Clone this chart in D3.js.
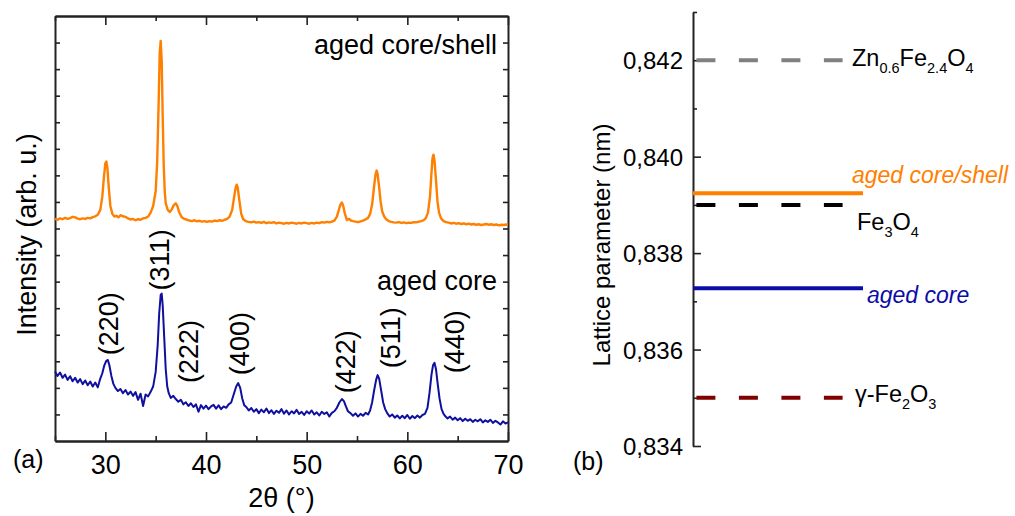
<!DOCTYPE html>
<html>
<head>
<meta charset="utf-8">
<script src="https://cdn.jsdelivr.net/npm/d3@7"></script>
<style>
  body { margin: 0; background: #fff; }
  svg { font-family: "Liberation Sans", Arial, sans-serif; }
  .frame path, .frame line { stroke: #222; }
</style>
</head>
<body>
<div id="chart"></div>
<script>
// XRD patterns (2theta in degrees, intensity in arb. units, offset already applied)
const coreShellXRD = [
  [25.0,8.36],[25.25,8.33],[25.5,8.38],[25.75,8.35],[26.0,8.40],[26.25,8.36],[26.5,8.39],[26.75,8.44],
  [27.0,8.42],[27.25,8.37],[27.5,8.35],[27.75,8.38],[28.0,8.36],[28.25,8.40],[28.5,8.38],[28.75,8.43],
  [29.0,8.46],[29.25,8.52],[29.5,8.70],[29.7,9.20],[29.85,9.90],[30.0,10.45],[30.1,10.52],[30.2,10.30],
  [30.35,9.50],[30.5,8.85],[30.7,8.55],[30.9,8.45],[31.1,8.48],[31.3,8.42],[31.5,8.50],[31.75,8.46],
  [32.0,8.44],[32.25,8.38],[32.5,8.34],[32.75,8.36],[33.0,8.31],[33.25,8.35],[33.5,8.33],[33.75,8.38],
  [34.0,8.40],[34.25,8.45],[34.5,8.60],[34.75,8.85],[35.0,9.40],[35.15,10.5],[35.3,12.8],[35.4,14.6],
  [35.5,15.06],[35.6,14.3],[35.7,12.2],[35.8,10.4],[35.9,9.4],[36.0,8.95],[36.2,8.70],[36.4,8.62],
  [36.6,8.72],[36.8,8.88],[37.0,8.95],[37.15,8.85],[37.35,8.60],[37.6,8.42],[37.85,8.36],[38.1,8.33],
  [38.35,8.30],[38.6,8.28],[38.85,8.31],[39.1,8.27],[39.35,8.29],[39.6,8.26],[39.85,8.28],[40.1,8.25],
  [40.35,8.28],[40.6,8.26],[40.85,8.30],[41.1,8.28],[41.35,8.31],[41.6,8.29],[41.85,8.33],[42.1,8.36],
  [42.35,8.45],[42.6,8.70],[42.8,9.20],[42.95,9.55],[43.05,9.65],[43.15,9.55],[43.3,9.10],[43.5,8.55],
  [43.7,8.35],[43.95,8.28],[44.2,8.25],[44.5,8.23],[44.75,8.26],[45.0,8.22],[45.25,8.24],[45.5,8.21],
  [45.75,8.25],[46.0,8.20],[46.25,8.23],[46.5,8.21],[46.75,8.24],[47.0,8.19],[47.25,8.22],[47.5,8.20],
  [47.75,8.18],[48.0,8.21],[48.25,8.19],[48.5,8.22],[48.75,8.20],[49.0,8.18],[49.25,8.21],[49.5,8.19],
  [49.75,8.22],[50.0,8.20],[50.25,8.18],[50.5,8.21],[50.75,8.19],[51.0,8.22],[51.25,8.20],[51.5,8.24],
  [51.75,8.22],[52.0,8.25],[52.25,8.23],[52.5,8.26],[52.75,8.30],[53.0,8.45],[53.2,8.70],[53.35,8.90],
  [53.5,8.98],[53.65,8.82],[53.8,8.55],[54.0,8.32],[54.2,8.36],[54.4,8.30],[54.6,8.28],[54.85,8.26],
  [55.1,8.24],[55.35,8.27],[55.6,8.30],[55.85,8.34],[56.1,8.40],[56.3,8.55],[56.5,8.90],[56.7,9.60],
  [56.85,10.05],[56.95,10.18],[57.05,10.05],[57.2,9.55],[57.35,9.00],[57.5,8.65],[57.7,8.45],[57.9,8.35],
  [58.15,8.28],[58.4,8.25],[58.65,8.23],[58.9,8.22],[59.15,8.24],[59.4,8.21],[59.65,8.23],[59.9,8.20],
  [60.15,8.22],[60.4,8.21],[60.65,8.24],[60.9,8.23],[61.15,8.26],[61.4,8.28],[61.65,8.32],[61.85,8.40],
  [62.05,8.60],[62.25,9.20],[62.4,10.10],[62.5,10.65],[62.6,10.78],[62.7,10.55],[62.85,9.80],[63.0,9.00],
  [63.15,8.60],[63.35,8.38],[63.6,8.28],[63.85,8.24],[64.1,8.22],[64.35,8.19],[64.6,8.21],[64.85,8.18],
  [65.1,8.20],[65.35,8.17],[65.6,8.19],[65.85,8.16],[66.1,8.18],[66.35,8.15],[66.6,8.17],[66.85,8.14],
  [67.1,8.16],[67.35,8.13],[67.6,8.15],[67.85,8.17],[68.1,8.14],[68.35,8.16],[68.6,8.13],[68.85,8.15],
  [69.1,8.12],[69.35,8.14],[69.6,8.13],[69.85,8.15],[70.0,8.14]
];

const coreXRD = [
  [25.0,2.62],[25.25,2.45],[25.5,2.58],[25.75,2.38],[26.0,2.50],[26.25,2.30],[26.5,2.44],[26.75,2.25],
  [27.0,2.38],[27.25,2.20],[27.5,2.33],[27.75,2.14],[28.0,2.28],[28.25,2.10],[28.5,2.24],[28.75,2.05],
  [29.0,2.20],[29.25,2.02],[29.5,2.35],[29.7,2.55],[29.9,2.85],[30.1,3.02],[30.25,3.05],[30.4,2.85],
  [30.6,2.45],[30.8,2.15],[31.0,2.00],[31.25,1.88],[31.5,1.96],[31.75,1.80],[32.0,1.92],[32.25,1.75],
  [32.5,1.86],[32.75,1.70],[33.0,1.84],[33.25,1.55],[33.5,1.78],[33.75,1.32],[34.0,1.75],[34.25,1.68],
  [34.5,1.85],[34.75,2.05],[35.0,2.60],[35.2,3.60],[35.35,4.80],[35.5,5.50],[35.6,5.55],[35.7,5.10],
  [35.85,3.90],[36.0,2.70],[36.15,2.05],[36.3,1.80],[36.5,1.62],[36.75,1.70],[37.0,1.58],[37.25,1.48],
  [37.5,1.55],[37.75,1.38],[38.0,1.46],[38.25,1.32],[38.5,1.42],[38.75,1.28],[39.0,1.38],[39.25,1.10],
  [39.5,1.35],[39.75,1.22],[40.0,1.33],[40.25,1.20],[40.5,1.30],[40.75,1.36],[41.0,1.22],[41.25,1.34],
  [41.5,1.20],[41.75,1.30],[42.0,1.25],[42.25,1.38],[42.5,1.45],[42.75,1.75],[43.0,2.05],[43.2,2.18],
  [43.4,2.00],[43.6,1.60],[43.8,1.35],[44.0,1.28],[44.25,1.15],[44.5,1.24],[44.75,1.10],[45.0,1.20],
  [45.25,1.05],[45.5,1.18],[45.75,1.08],[46.0,1.22],[46.25,1.05],[46.5,1.16],[46.75,1.02],[47.0,1.14],
  [47.25,1.06],[47.5,1.20],[47.75,1.03],[48.0,1.15],[48.25,1.00],[48.5,1.12],[48.75,1.04],[49.0,1.17],
  [49.25,1.02],[49.5,1.10],[49.75,0.98],[50.0,1.12],[50.25,1.03],[50.5,1.15],[50.75,1.00],[51.0,1.08],
  [51.25,0.96],[51.5,1.10],[51.75,1.02],[52.0,1.08],[52.25,0.92],[52.5,1.06],[52.75,1.12],[53.0,1.25],
  [53.25,1.45],[53.5,1.58],[53.7,1.50],[53.9,1.30],[54.1,1.12],[54.35,1.05],[54.6,0.95],[54.85,1.04],
  [55.1,0.92],[55.35,1.02],[55.6,0.95],[55.85,1.06],[56.1,1.00],[56.3,1.15],[56.5,1.45],[56.7,1.90],
  [56.9,2.30],[57.05,2.48],[57.2,2.35],[57.4,1.90],[57.6,1.45],[57.8,1.20],[58.0,1.05],[58.25,0.92],
  [58.5,1.00],[58.75,0.88],[59.0,0.96],[59.25,0.85],[59.5,0.95],[59.75,0.86],[60.0,0.98],[60.25,0.84],
  [60.5,0.94],[60.75,0.86],[61.0,0.96],[61.25,0.88],[61.5,0.98],[61.75,1.02],[62.0,1.25],[62.2,1.80],
  [62.4,2.50],[62.55,2.85],[62.7,2.94],[62.85,2.70],[63.0,2.20],[63.2,1.60],[63.4,1.20],[63.6,1.02],
  [63.8,0.92],[64.0,0.85],[64.25,0.92],[64.5,0.80],[64.75,0.88],[65.0,0.78],[65.25,0.86],[65.5,0.75],
  [65.75,0.84],[66.0,0.76],[66.25,0.82],[66.5,0.72],[66.75,0.80],[67.0,0.74],[67.25,0.82],[67.5,0.70],
  [67.75,0.78],[68.0,0.72],[68.25,0.80],[68.5,0.68],[68.75,0.76],[69.0,0.70],[69.25,0.62],[69.5,0.74],
  [69.75,0.66],[70.0,0.70]
];

// reflections (Miller indices) and where their labels sit
const hklLabels = ["(220)", "(311)", "(222)", "(400)", "(422)", "(511)", "(440)"];
const hklTheta = [30.3, 35.4, 38.2, 43.3, 53.8, 58.3, 64.7];
const hklLevel = [3.23, 5.67, 2.18, 2.48, 1.80, 2.74, 2.55];

const xTicks = [30, 40, 50, 60, 70];
const xMinorTicks = [25, 35, 45, 55, 65];

// lattice parameters (nm)
const sampleNames = ["aged core/shell", "aged core"];
const sampleValues = [0.83924, 0.83727];
const refNames = [
  [["Zn", ""], ["0.6", "sub"], ["Fe", ""], ["2.4", "sub"], ["O", ""], ["4", "sub"]],
  [["Fe", ""], ["3", "sub"], ["O", ""], ["4", "sub"]],
  [["\u03b3-Fe", ""], ["2", "sub"], ["O", ""], ["3", "sub"]]
];
const refValues = [0.842, 0.839, 0.835];
const latticeTicks = [0.834, 0.836, 0.838, 0.840, 0.842];
const latticeMinorTicks = [0.835, 0.837, 0.839, 0.841, 0.843];

const svgWidth = 1015;
const svgHeight = 516;

const svg = d3.select("#chart")
  .append("svg")
  .attr("width", svgWidth)
  .attr("height", svgHeight);

// ---------- panel (a) ----------
const a = { left: 55, right: 508, top: 16, bottom: 441 };

const x = d3.scaleLinear().domain([25, 70]).range([a.left, a.right]);
const y = d3.scaleLinear().domain([0, 16]).range([a.bottom, a.top]);

const fontA = 27;

function tickAxis(axis, tx, ty) {
  const g = svg.append("g")
    .attr("class", "frame")
    .attr("transform", `translate(${tx},${ty})`)
    .call(axis);
  g.select(".domain").attr("stroke-width", 2);
  g.selectAll(".tick line").attr("stroke-width", 1.6);
  return g;
}

// bottom axis, inward ticks
const bottomAxis = tickAxis(
  d3.axisBottom(x).tickValues(xTicks).tickSize(-9).tickSizeOuter(0).tickPadding(14),
  0, a.bottom);
bottomAxis.selectAll("text")
  .attr("font-size", fontA)
  .attr("fill", "#000")
  .style("font-family", "Liberation Sans, Arial, sans-serif");
tickAxis(d3.axisBottom(x).tickValues(xMinorTicks).tickSize(-5).tickSizeOuter(0).tickFormat(""), 0, a.bottom);

// top axis (mirror)
tickAxis(d3.axisTop(x).tickValues(xTicks).tickSize(-9).tickSizeOuter(0).tickFormat(""), 0, a.top);
tickAxis(d3.axisTop(x).tickValues(xMinorTicks).tickSize(-5).tickSizeOuter(0).tickFormat(""), 0, a.top);

// left / right, no labels
const yTicks = d3.range(1, 16);
tickAxis(d3.axisLeft(y).tickValues(yTicks).tickSize(-5).tickSizeOuter(0).tickFormat(""), a.left, 0);
tickAxis(d3.axisRight(y).tickValues(yTicks).tickSize(-5).tickSizeOuter(0).tickFormat(""), a.right, 0);

const line = d3.line()
  .x(d => x(d[0]))
  .y(d => y(d[1]));

svg.append("path")
  .datum(coreXRD)
  .attr("fill", "none")
  .attr("stroke", "#10109e")
  .attr("stroke-width", 2)
  .attr("stroke-linejoin", "round")
  .attr("d", line);

svg.append("path")
  .datum(coreShellXRD)
  .attr("fill", "none")
  .attr("stroke", "#ff8000")
  .attr("stroke-width", 2.4)
  .attr("stroke-linejoin", "round")
  .attr("d", line);

// hkl labels, rotated
svg.selectAll(".hkl")
  .data(hklLabels)
  .enter()
  .append("text")
  .attr("class", "hkl")
  .attr("transform", (d, i) => `translate(${x(hklTheta[i])},${y(hklLevel[i])}) rotate(-90)`)
  .attr("dy", "0.36em")
  .attr("font-size", fontA)
  .text(d => d);

svg.append("text")
  .attr("x", 497).attr("y", 54)
  .attr("text-anchor", "end")
  .attr("font-size", fontA)
  .text("aged core/shell");

svg.append("text")
  .attr("x", 497).attr("y", 290)
  .attr("text-anchor", "end")
  .attr("font-size", fontA)
  .text("aged core");

svg.append("text")
  .attr("transform", `translate(36,${(a.top + a.bottom) / 2 + 6}) rotate(-90)`)
  .attr("text-anchor", "middle")
  .attr("font-size", fontA)
  .text("Intensity (arb. u.)");

svg.append("text")
  .attr("x", (a.left + a.right) / 2).attr("y", 507)
  .attr("text-anchor", "middle")
  .attr("font-size", fontA)
  .text("2\u03b8 (\u00b0)");

svg.append("text")
  .attr("x", 13).attr("y", 468)
  .attr("font-size", 25)
  .text("(a)");

// ---------- panel (b) ----------
const axisX = 693;
const yb = d3.scaleLinear().domain([0.834, 0.843]).range([446, 12]);
const xb = d3.scaleLinear().domain([0, 1]).range([axisX, 863]);
const fontB = 24;

const leftAxisB = svg.append("g")
  .attr("class", "frame")
  .attr("transform", `translate(${axisX},0)`)
  .call(d3.axisLeft(yb).tickValues(latticeTicks).tickSize(-8).tickSizeOuter(0).tickPadding(10)
    .tickFormat(d => d3.format(".3f")(d).replace(".", ",")));
leftAxisB.select(".domain").attr("stroke-width", 2);
leftAxisB.selectAll(".tick line").attr("stroke-width", 1.6);
leftAxisB.selectAll("text")
  .attr("font-size", fontB)
  .attr("fill", "#000")
  .attr("dy", "0.36em")
  .style("font-family", "Liberation Sans, Arial, sans-serif");

const minorB = svg.append("g")
  .attr("class", "frame")
  .attr("transform", `translate(${axisX},0)`)
  .call(d3.axisLeft(yb).tickValues(latticeMinorTicks).tickSize(-4).tickSizeOuter(0).tickFormat(""));
minorB.select(".domain").remove();
minorB.selectAll(".tick line").attr("stroke-width", 1.6);

const refColors = ["#808080", "#000000", "#800000"];
const sampleColors = ["#ff8000", "#0c0ca6"];

// reference phases, dashed
svg.selectAll(".ref")
  .data(refValues)
  .enter()
  .append("line")
  .attr("class", "ref")
  .attr("x1", xb(0.02)).attr("x2", xb(0.88))
  .attr("y1", d => yb(d)).attr("y2", d => yb(d))
  .attr("stroke", (d, i) => refColors[i])
  .attr("stroke-width", 4)
  .attr("stroke-dasharray", "19,23.5");

// measured samples, solid
svg.selectAll(".sample")
  .data(sampleValues)
  .enter()
  .append("line")
  .attr("class", "sample")
  .attr("x1", xb(0)).attr("x2", xb(1))
  .attr("y1", d => yb(d)).attr("y2", d => yb(d))
  .attr("stroke", (d, i) => sampleColors[i])
  .attr("stroke-width", 4);

// labels
const refLabelPos = [[852, 6], [857, 25], [855, 4.5]];
refNames.forEach((parts, i) => {
  const t = svg.append("text")
    .attr("x", refLabelPos[i][0])
    .attr("y", yb(refValues[i]) + refLabelPos[i][1])
    .attr("font-size", 23.5);
  let lowered = false;
  parts.forEach(p => {
    const sub = p[1] === "sub";
    let dy = 0;
    if (sub && !lowered) { dy = 7; lowered = true; }
    if (!sub && lowered) { dy = -7; lowered = false; }
    t.append("tspan")
      .attr("dy", dy)
      .attr("font-size", sub ? 14.5 : 23.5)
      .text(p[0]);
  });
});

const sampleLabelPos = [[852, -10], [867, 15]];
svg.selectAll(".sampleLabel")
  .data(sampleNames)
  .enter()
  .append("text")
  .attr("x", (d, i) => sampleLabelPos[i][0])
  .attr("y", (d, i) => yb(sampleValues[i]) + sampleLabelPos[i][1])
  .attr("font-size", 23)
  .attr("font-style", "italic")
  .attr("fill", (d, i) => sampleColors[i])
  .text(d => d);

svg.append("text")
  .attr("transform", `translate(610,245) rotate(-90)`)
  .attr("text-anchor", "middle")
  .attr("font-size", fontB)
  .text("Lattice parameter (nm)");

svg.append("text")
  .attr("x", 573).attr("y", 470)
  .attr("font-size", 25)
  .text("(b)");
</script>
</body>
</html>
